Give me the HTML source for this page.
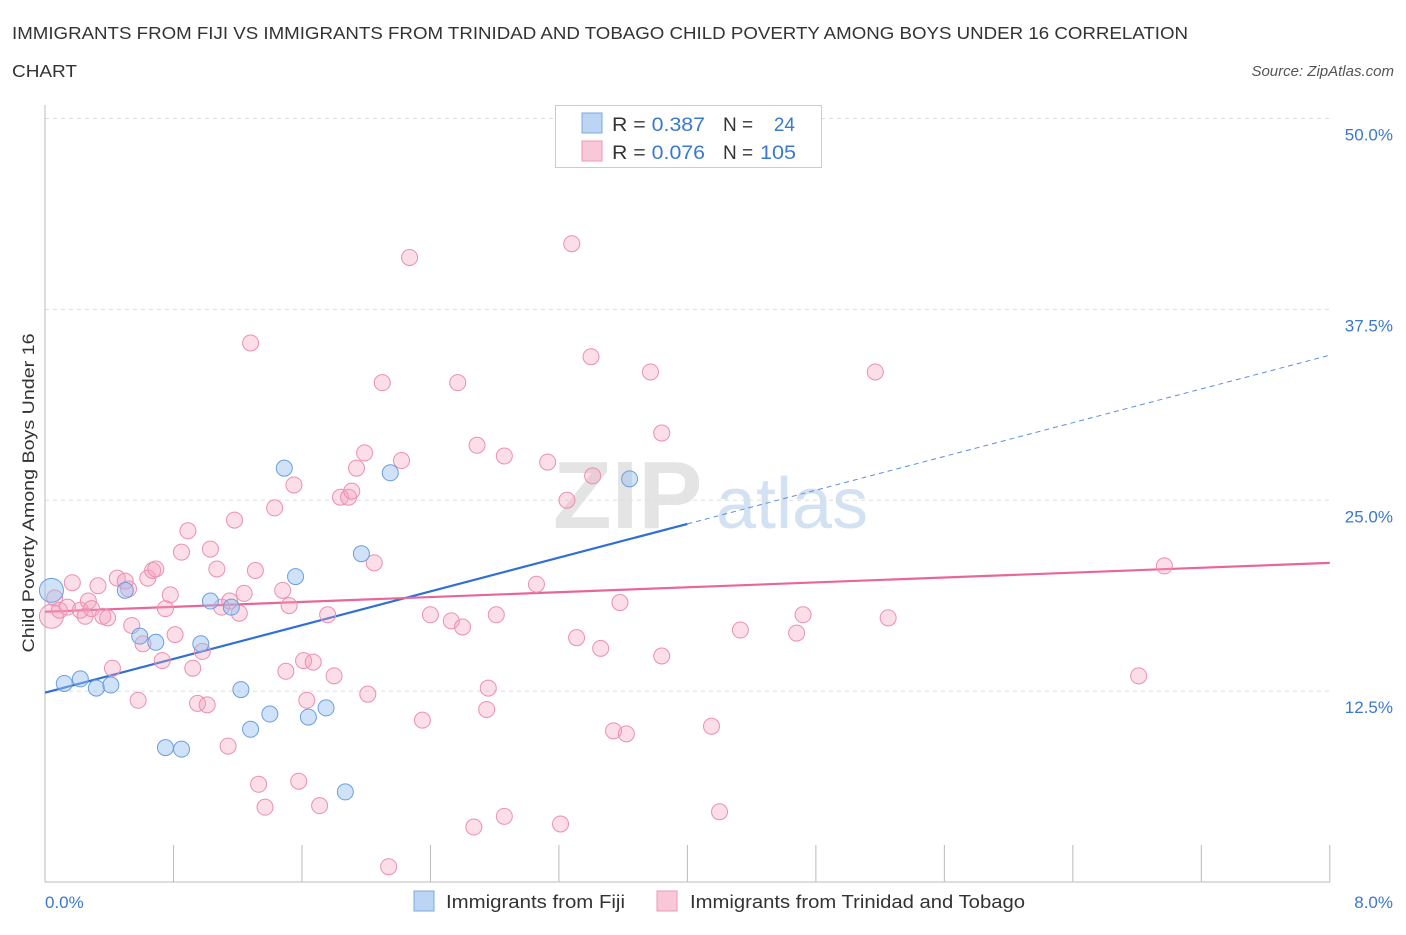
<!DOCTYPE html>
<html><head><meta charset="utf-8"><style>
body{margin:0;background:#fff;font-family:"Liberation Sans",sans-serif;}
svg text{font-family:"Liberation Sans",sans-serif;}
</style></head><body>
<svg id="chart" width="1406" height="930" xmlns="http://www.w3.org/2000/svg">
<text x="12" y="39" font-size="17.5" fill="#333" textLength="1176" lengthAdjust="spacingAndGlyphs">IMMIGRANTS FROM FIJI VS IMMIGRANTS FROM TRINIDAD AND TOBAGO CHILD POVERTY AMONG BOYS UNDER 16 CORRELATION</text>
<text x="12" y="77" font-size="17.5" fill="#333" textLength="65" lengthAdjust="spacingAndGlyphs">CHART</text>
<text x="1394" y="76" font-size="15" fill="#555" font-style="italic" text-anchor="end">Source: ZipAtlas.com</text>
<text x="553" y="528" font-size="96" fill="#e4e4e4" font-family="Liberation Serif" font-weight="bold">ZIP</text>
<text x="716" y="528" font-size="72" fill="#d3e2f3">atlas</text>
<g id="grid"></g><g id="axes"></g>
<g id="lines"></g>
<g id="pts"></g>
<text transform="translate(34,493) rotate(-90)" font-size="17" fill="#333" text-anchor="middle" textLength="319" lengthAdjust="spacingAndGlyphs">Child Poverty Among Boys Under 16</text>
<text x="45" y="908" font-size="17" fill="#3a78d0">0.0%</text>
<text x="1393" y="908" font-size="17" fill="#3a78d0" text-anchor="end">8.0%</text>
<g>
<rect x="555.5" y="105.5" width="266" height="62" fill="#fff" stroke="#ccc"/>
<rect x="582" y="113" width="20" height="20" fill="#bcd5f5" stroke="#7aa8e0"/>
<rect x="582" y="141" width="20" height="20" fill="#f9c8d8" stroke="#eb9ab5"/>
<text x="612" y="131" font-size="19" fill="#333" textLength="93" lengthAdjust="spacingAndGlyphs">R = <tspan fill="#3a78d0">0.387</tspan></text>
<text x="723" y="131" font-size="19" fill="#333">N = </text><text x="795" y="131" font-size="19" fill="#3a78d0" text-anchor="end">24</text>
<text x="612" y="159" font-size="19" fill="#333" textLength="93" lengthAdjust="spacingAndGlyphs">R = <tspan fill="#3a78d0">0.076</tspan></text>
<text x="723" y="159" font-size="19" fill="#333">N = </text><text x="796" y="159" font-size="19" fill="#3a78d0" text-anchor="end" textLength="36" lengthAdjust="spacingAndGlyphs">105</text>
</g>
<g>
<rect x="414" y="891" width="20" height="20" fill="#bcd5f5" stroke="#7aa8e0"/>
<text x="446" y="908" font-size="18" fill="#333" textLength="179" lengthAdjust="spacingAndGlyphs">Immigrants from Fiji</text>
<rect x="657" y="891" width="20" height="20" fill="#f9c8d8" stroke="#eb9ab5"/>
<text x="690" y="908" font-size="18" fill="#333" textLength="335" lengthAdjust="spacingAndGlyphs">Immigrants from Trinidad and Tobago</text>
</g>
</svg>
<script>
const yTicks=[12.5,25,37.5,50];
const yTickLabels=["12.5%","25.0%","37.5%","50.0%"];
const xTicks=[0,0.8,1.6,2.4,3.2,4,4.8,5.6,6.4,7.2,8];
const fijiX=[0.04,0.12,0.22,0.32,0.41,0.50,0.59,0.69,0.75,0.85,0.97,1.03,1.16,1.22,1.28,1.40,1.49,1.56,1.64,1.75,1.87,1.97,2.15,3.64];
const fijiY=[19.1,13.0,13.3,12.7,12.9,19.1,16.1,15.7,8.8,8.7,15.6,18.4,18.0,12.6,10.0,11.0,27.1,20.0,10.8,11.4,5.9,21.5,26.8,26.4];
const ttX=[0.04,0.06,0.09,0.17,0.14,0.22,0.25,0.27,0.29,0.33,0.36,0.39,0.42,0.45,0.50,0.52,0.54,0.58,0.61,0.64,0.67,0.69,0.73,0.75,0.78,0.81,0.85,0.89,0.92,0.95,0.98,1.01,1.03,1.07,1.10,1.14,1.15,1.18,1.21,1.24,1.28,1.31,1.33,1.37,1.43,1.48,1.50,1.52,1.55,1.58,1.61,1.63,1.67,1.71,1.76,1.80,1.84,1.89,1.91,1.94,1.99,2.01,2.05,2.10,2.14,2.22,2.27,2.35,2.40,2.53,2.57,2.60,2.67,2.69,2.76,2.75,2.81,2.86,2.86,3.06,3.13,3.21,3.25,3.28,3.31,3.40,3.41,3.46,3.54,3.58,3.62,3.77,3.84,3.84,4.15,4.20,4.33,4.68,4.72,5.17,5.25,6.81,6.97];
const ttY=[17.4,18.6,17.8,19.6,18.0,17.8,17.4,18.4,17.9,19.4,17.4,17.3,14.0,19.9,19.7,19.2,16.8,11.9,15.6,19.9,20.4,20.5,14.5,17.9,18.8,16.2,21.6,23.0,14.0,11.7,15.1,11.6,21.8,20.5,18.0,8.9,18.4,23.7,17.6,18.9,35.3,20.4,6.4,4.9,24.5,19.1,13.8,18.1,26.0,6.6,14.5,11.9,14.4,5.0,17.5,13.5,25.2,25.2,25.6,27.1,28.1,12.3,20.9,32.7,1.0,27.6,40.9,10.6,17.5,17.1,32.7,16.7,3.6,28.6,12.7,11.3,17.5,27.9,4.3,19.5,27.5,3.8,25.0,41.8,16.0,34.4,26.6,15.3,9.9,18.3,9.7,33.4,14.8,29.4,10.2,4.6,16.5,16.3,17.5,33.4,17.3,13.5,20.7];
const fijiLine=[12.4,34.5];
const ttLine=[17.7,20.9];
const NS="http://www.w3.org/2000/svg";
const X=v=>45+v*160.6, Y=v=>882-v*15.27;
function mk(t,a,p){const e=document.createElementNS(NS,t);for(const k in a)e.setAttribute(k,a[k]);p.appendChild(e);return e;}
const grid=document.getElementById('grid'),axes=document.getElementById('axes');
yTicks.forEach((t,i)=>{
 const l=mk('line',{x1:45,x2:1330,y1:Y(t),y2:Y(t),stroke:'#ddd','stroke-dasharray':'4,4'},grid);
 
 
 const tx=mk('text',{x:1393,y:Y(t)+22,'font-size':17,fill:'#3a78d0','text-anchor':'end'},grid);
 tx.textContent=yTickLabels[i];
 
 
});
const ax=mk('line',{x1:45,x2:1330,y1:882,y2:882,stroke:'#bbb'},axes);


const ay=mk('line',{x1:45,x2:45,y1:105,y2:882,stroke:'#bbb'},axes);


xTicks.forEach(t=>{const e=mk('line',{x1:X(t),x2:X(t),y1:845,y2:882,stroke:'#bbb'},axes);
 
 });
const pts=document.getElementById('pts');
ttX.forEach((x,i)=>{const c=mk('circle',{cx:X(x),cy:Y(ttY[i]),r:i==0?12:8,fill:'rgba(244,160,190,0.35)',stroke:'#ec8fb0','stroke-width':1},pts);
 
 });
fijiX.forEach((x,i)=>{const c=mk('circle',{cx:X(x),cy:Y(fijiY[i]),r:i==0?12:8,fill:'rgba(150,190,240,0.45)',stroke:'#6a9ee0','stroke-width':1},pts);
 
 });
const lines=document.getElementById('lines');
const fy=x=>fijiLine[0]+(fijiLine[1]-fijiLine[0])*x/8;
const l1=mk('line',{x1:X(0),y1:Y(fy(0)),x2:X(4),y2:Y(fy(4)),stroke:'#2f6fd6','stroke-width':2.2},lines);


const l2=mk('line',{x1:X(4),y1:Y(fy(4)),x2:X(8),y2:Y(fy(8)),stroke:'#5b8fdf','stroke-width':1,'stroke-dasharray':'5,4'},lines);


const l3=mk('line',{x1:X(0),y1:Y(ttLine[0]),x2:X(8),y2:Y(ttLine[1]),stroke:'#e8679a','stroke-width':2.2},lines);


</script>
</body></html>
